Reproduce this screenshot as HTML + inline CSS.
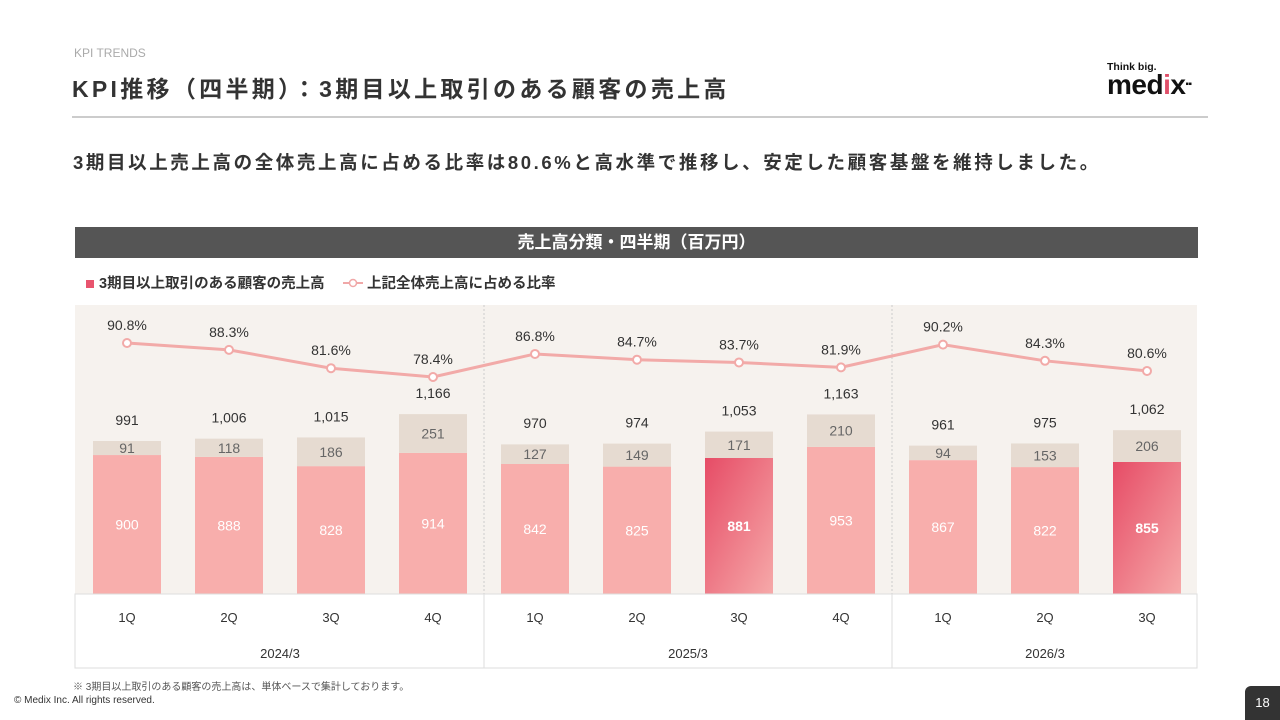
<!DOCTYPE html>
<html><head><meta charset="utf-8"><style>
body{margin:0;width:1280px;height:720px;overflow:hidden;background:#fff;font-family:"Liberation Sans","Noto Sans CJK JP",sans-serif;position:relative;color:#333}
.abs{position:absolute;white-space:nowrap}
</style></head><body>
<div class="abs" style="left:74px;top:46px;font-size:12px;color:#aaa">KPI TRENDS</div>
<div class="abs" style="left:72px;top:70px;font-size:23px;font-weight:bold;letter-spacing:3.3px;color:#333">KPI推移（四半期）：3期目以上取引のある顧客の売上高</div>
<div class="abs" style="left:1107px;top:61px">
 <div style="font-size:10.5px;font-weight:bold;color:#111">Think big.</div>
 <div style="font-size:28px;font-weight:900;color:#111;line-height:24px;letter-spacing:-0.5px">med<span style="color:#e0506a">i</span>x<span style="font-size:10px;vertical-align:top">▪▪</span></div>
</div>
<div class="abs" style="left:72px;top:116px;width:1136px;height:2px;background:#ccc"></div>
<div class="abs" style="left:73px;top:149px;font-size:18.5px;font-weight:bold;letter-spacing:2.6px;color:#333">3期目以上売上高の全体売上高に占める比率は80.6%と高水準で推移し、安定した顧客基盤を維持しました。</div>
<div class="abs" style="left:75px;top:227px;width:1123px;height:31px;background:#555;color:#fff;font-size:17px;font-weight:bold;text-align:center;line-height:31px">売上高分類・四半期（百万円）</div>
<div class="abs" style="left:86px;top:272px;font-size:14.5px;font-weight:bold;color:#333"><span style="display:inline-block;width:8px;height:8px;background:#e8546e;margin-right:5px"></span>3期目以上取引のある顧客の売上高</div>
<div class="abs" style="left:343px;top:272px;font-size:14.5px;font-weight:bold;color:#333"><svg width="20" height="10" style="margin-right:4px"><line x1="0" y1="5" x2="20" y2="5" stroke="#f0a8a8" stroke-width="2"/><circle cx="10" cy="5" r="3.5" fill="#fff" stroke="#f0a8a8" stroke-width="1.5"/></svg>上記全体売上高に占める比率</div>
<svg class="abs" id="chart" style="left:0;top:0" width="1280" height="720"></svg>
<div class="abs" style="left:73px;top:678px;font-size:10px;color:#555">※ 3期目以上取引のある顧客の売上高は、単体ベースで集計しております。</div>
<div class="abs" style="left:14px;top:695px;font-size:10px;color:#333">© Medix Inc. All rights reserved.</div>
<div class="abs" style="left:1245px;top:686px;width:35px;height:34px;background:#333;color:#fff;font-size:13px;text-align:center;line-height:34px;border-top-left-radius:6px">18</div>
<script>
const quarters=["1Q","2Q","3Q","4Q","1Q","2Q","3Q","4Q","1Q","2Q","3Q"];
const years=["2024/3","2025/3","2026/3"];
const yearSizes=[4,4,3];
const repeatSales=[900,888,828,914,842,825,881,953,867,822,855];
const otherSales=[91,118,186,251,127,149,171,210,94,153,206];
const totals=[991,1006,1015,1166,970,974,1053,1163,961,975,1062];
const ratios=[90.8,88.3,81.6,78.4,86.8,84.7,83.7,81.9,90.2,84.3,80.6];
const highlight=[false,false,false,false,false,false,true,false,false,false,true];

const svg=document.getElementById('chart');const NS='http://www.w3.org/2000/svg';
function mk(t,a,txt){const e=document.createElementNS(NS,t);for(const k in a)e.setAttribute(k,a[k]);if(txt!=null)e.textContent=txt;svg.appendChild(e);return e;}
const base=594,plotTop=305,left=75,right=1197;
const yv=v=>base-v*0.1544;
const xc=i=>127+i*102;
const yr=p=>343+(90.8-p)*2.74;
const barW=68;
const defs=mk('defs',{});
defs.innerHTML='<linearGradient id="hg" x1="0" y1="0" x2="1" y2="1"><stop offset="0" stop-color="#e64c66"/><stop offset="1" stop-color="#f6a9a9"/></linearGradient>';
let bg=mk('rect',{x:left,y:plotTop,width:right-left,height:base-plotTop,fill:'#f6f2ee'});

let acc=0;
yearSizes.forEach((n,g)=>{acc+=n;if(g<yearSizes.length-1){const x=(xc(acc-1)+xc(acc))/2;const d=mk('line',{x1:x,y1:plotTop,x2:x,y2:base,stroke:'#ccc','stroke-dasharray':'2,2'});}});
const fam='"Liberation Sans","Noto Sans CJK JP",sans-serif';
repeatSales.forEach((v,i)=>{
 const x=xc(i)-barW/2;
 const r=mk('rect',{x:x,y:yv(v),width:barW,height:base-yv(v),fill:highlight[i]?'url(#hg)':'#f8aeac'});
 
 const o=otherSales[i];
 const r2=mk('rect',{x:x,y:yv(v+o),width:barW,height:yv(v)-yv(v+o),fill:'#e6dbd1'});
 
 mk('text',{x:xc(i),y:(yv(v)+base)/2+5,'text-anchor':'middle','font-size':14,fill:'#fff','font-weight':highlight[i]?'bold':'normal','font-family':fam},v);
 mk('text',{x:xc(i),y:(yv(v)+yv(v+o))/2+5,'text-anchor':'middle','font-size':14,fill:'#666','font-family':fam},o);
 mk('text',{x:xc(i),y:yv(totals[i])-16,'text-anchor':'middle','font-size':14,fill:'#333','font-family':fam},totals[i].toLocaleString('en-US'));
});
const pts=ratios.map((p,i)=>xc(i)+','+yr(p)).join(' ');
const pl=mk('polyline',{points:pts,fill:'none',stroke:'#f2aaa8','stroke-width':3});

ratios.forEach((p,i)=>{
 const c=mk('circle',{cx:xc(i),cy:yr(p),r:4,fill:'#fff',stroke:'#f2aaa8','stroke-width':2});
 
 mk('text',{x:xc(i),y:yr(p)-13,'text-anchor':'middle','font-size':14,fill:'#333','font-family':fam},p.toFixed(1)+'%');
});
mk('rect',{x:left,y:base,width:right-left,height:74,fill:'#fff',stroke:'#ddd'});
acc=0;
yearSizes.forEach((n,g)=>{
 const s=acc;acc+=n;
 const x0=g==0?left:(xc(s-1)+xc(s))/2;
 if(g>0)mk('line',{x1:x0,y1:base,x2:x0,y2:668,stroke:'#ddd'});
 const t=mk('text',{x:(xc(s)+xc(acc-1))/2,y:658,'text-anchor':'middle','font-size':13,fill:'#333','font-family':fam},years[g]);
 
});
quarters.forEach((q,i)=>{const t=mk('text',{x:xc(i),y:622,'text-anchor':'middle','font-size':13,fill:'#333','font-family':fam},q);
 });
</script>
</body></html>
